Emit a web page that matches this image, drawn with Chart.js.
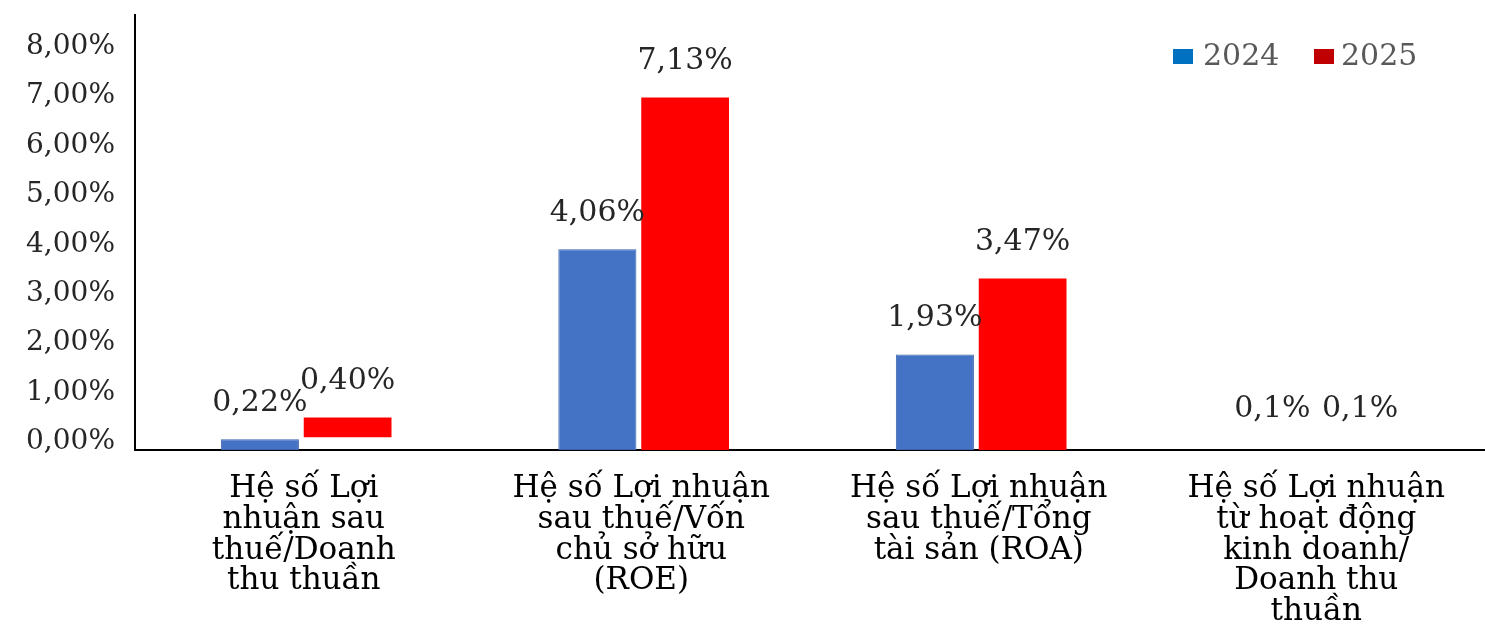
<!DOCTYPE html>
<html><head><meta charset="utf-8">
<script src="https://cdn.jsdelivr.net/npm/chart.js@4.4.1/dist/chart.umd.min.js"></script>
<style>html,body{margin:0;padding:0;background:#fff;}#wrap{width:1485px;height:628px;position:relative;}</style>
</head><body><div id="wrap"><canvas id="c" width="1485" height="628"></canvas></div>
<script>
const categories = [
  ["Hệ số Lợi", "nhuận sau", "thuế/Doanh", "thu thuần"],
  ["Hệ số Lợi nhuận", "sau thuế/Vốn", "chủ sở hữu", "(ROE)"],
  ["Hệ số Lợi nhuận", "sau thuế/Tổng", "tài sản (ROA)"],
  ["Hệ số Lợi nhuận", "từ hoạt động", "kinh doanh/", "Doanh thu", "thuần"]
];
const seriesNames = ["2024", "2025"];
const values2024 = [0.22, 4.06, 1.93, 0.1];
const values2025 = [0.40, 7.13, 3.47, 0.1];
const start2025 = [0.26, 0, 0, 0];
const valueLabels2024 = ["0,22%", "4,06%", "1,93%", "0,1%"];
const valueLabels2025 = ["0,40%", "7,13%", "3,47%", "0,1%"];
const yTickValues = [0, 1, 2, 3, 4, 5, 6, 7, 8];

const FONT = "DejaVu Serif";
const barBlue = "#4472C4", barRed = "#FF0000";
const legendBlue = "#0070C0", legendRed = "#C00000";

const valueLabelPlugin = {
  id: "valueLabels",
  afterDatasetsDraw(chart) {
    const ctx = chart.ctx;
    ctx.save();
    ctx.font = "30px '" + FONT + "'";
    ctx.fillStyle = "#262626";
    ctx.textAlign = "center";
    ctx.textBaseline = "middle";
    const labelSets = [valueLabels2024, valueLabels2025];
    chart.data.datasets.forEach((ds, di) => {
      const meta = chart.getDatasetMeta(di);
      meta.data.forEach((el, i) => {
        const top = Math.min(el.y, el.base);
        ctx.fillText(labelSets[di][i], el.x, top - 36);
      });
    });
    ctx.restore();
  }
};

const legendPlugin = {
  id: "customLegend",
  afterDraw(chart) {
    const ctx = chart.ctx;
    const ca = chart.chartArea;
    ctx.save();
    ctx.font = "30px '" + FONT + "'";
    ctx.textBaseline = "middle";
    const y = ca.top + 41;
    let x = ca.right - 312;
    const cols = [legendBlue, legendRed];
    seriesNames.forEach((name, i) => {
      ctx.fillStyle = cols[i];
      ctx.fillRect(x, y - 7, 20, 15);
      ctx.fillStyle = "#595959";
      ctx.textAlign = "left";
      ctx.fillText(name, x + (i === 0 ? 30 : 27), y + 1);
      x += 141;
    });
    ctx.restore();
  }
};

new Chart(document.getElementById("c"), {
  type: "bar",
  data: {
    labels: categories,
    datasets: [
      {
        label: seriesNames[0],
        data: values2024,
        backgroundColor: values2024.map((v, i) => i === 3 ? "rgba(0,0,0,0)" : barBlue),
        borderColor: values2024.map((v, i) => i === 3 ? "rgba(0,0,0,0)" : "#3A63AE"),
        borderWidth: 1,
        borderSkipped: false,
        categoryPercentage: 0.52,
        barPercentage: 0.89
      },
      {
        label: seriesNames[1],
        data: values2025.map((v, i) => [start2025[i], start2025[i] + v]),
        backgroundColor: values2025.map((v, i) => i === 3 ? "rgba(0,0,0,0)" : barRed),
        borderWidth: 0,
        categoryPercentage: 0.52,
        barPercentage: 1.0
      }
    ]
  },
  options: {
    responsive: false,
    devicePixelRatio: 1,
    animation: false,
    layout: { padding: { top: 15, right: 0, left: 0, bottom: 0 } },
    plugins: { legend: { display: false }, tooltip: { enabled: false } },
    scales: {
      x: {
        grid: { display: false, drawTicks: false },
        border: { display: true, color: "#000", width: 2 },
        ticks: {
          color: "#000",
          font: { family: FONT, size: 31, lineHeight: 0.99 },
          padding: 24,
          maxRotation: 0,
          autoSkip: false
        },
        afterFit(s) { s.height = 178; s.paddingLeft = 0; s.paddingRight = 0; }
      },
      y: {
        min: 0,
        max: 8.8,
        grid: { display: false, drawTicks: false },
        border: { display: true, color: "#000", width: 2 },
        afterBuildTicks(s) { s.ticks = yTickValues.map(v => ({ value: v })); },
        ticks: {
          color: "#262626",
          font: { family: FONT, size: 28 },
          padding: 20,
          labelOffset: -8,
          callback: v => v.toFixed(2).replace(".", ",") + "%"
        },
        afterFit(s) { s.width = 135; s.paddingTop = 0; s.paddingBottom = 0; }
      }
    }
  },
  plugins: [valueLabelPlugin, legendPlugin]
});
</script></body></html>
